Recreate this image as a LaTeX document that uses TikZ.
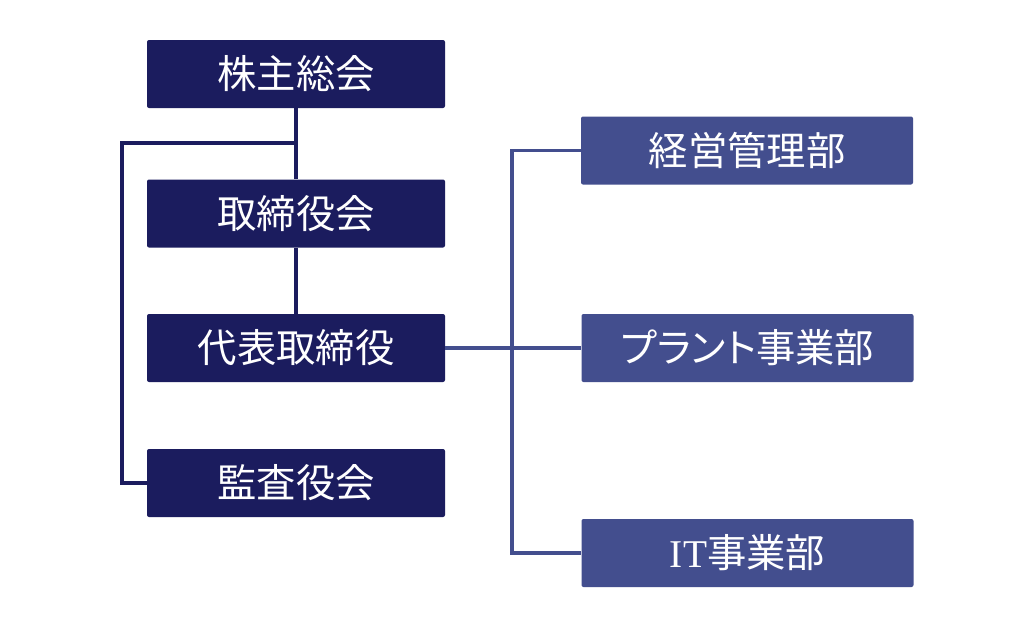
\documentclass[tikz,border=0pt]{standalone}
\usepackage{fontspec}
\setmainfont{Noto Sans CJK JP}
\newfontfamily\latinserif{Liberation Serif}
\usepackage{tikz}
\definecolor{kon}{RGB}{27,28,94}
\definecolor{ai}{RGB}{67,78,142}

\begin{document}
\begin{tikzpicture}[x=0.75pt,y=-0.75pt,
  yakuin/.style={fill=kon, text=white, rounded corners=1.5pt, minimum width=223.5pt, minimum height=51pt, inner sep=0pt, font=\fontsize{29.5}{32}\selectfont},
  bumon/.style={fill=ai, text=white, rounded corners=1.5pt, minimum width=249pt, minimum height=51pt, inner sep=0pt, font=\fontsize{29.5}{32}\selectfont},
  konsen/.style={draw=kon, line width=2.4pt},
  aisen/.style={draw=ai, line width=2.4pt}]
\useasboundingbox (0,0) rectangle (1033,633);
\fill[white] (0,0) rectangle (1033,633);

\node[yakuin] (soukai) at (296,74) {株主総会};
\node[yakuin] (torishimari) at (296,213.5) {取締役会};
\node[yakuin] (daihyo) at (296,348) {代表取締役};
\node[yakuin] (kansa) at (296,483) {監査役会};

\node[bumon] (keiei) at (747,150.5) {経営管理部};
\node[bumon] (plant) at (747.5,348) {{\addfontfeature{RawFeature=+palt}プラント}事業部};
\node[bumon] (it) at (747.5,553) {{\latinserif IT}事業部};

\coordinate (bunki) at (296,143);
\coordinate (hidari) at (122,143);
\coordinate (migi) at (512,348);

\draw[konsen] (soukai.south) -- (torishimari.north);
\draw[konsen] (torishimari.south) -- (daihyo.north);
\draw[konsen] (bunki) -- (hidari) |- (kansa.west);

\draw[aisen] (daihyo.east) -- (migi);
\draw[aisen] (keiei.west) -| (migi) |- (it.west);
\draw[aisen] (migi) -- (plant.west);
\end{tikzpicture}
\end{document}
